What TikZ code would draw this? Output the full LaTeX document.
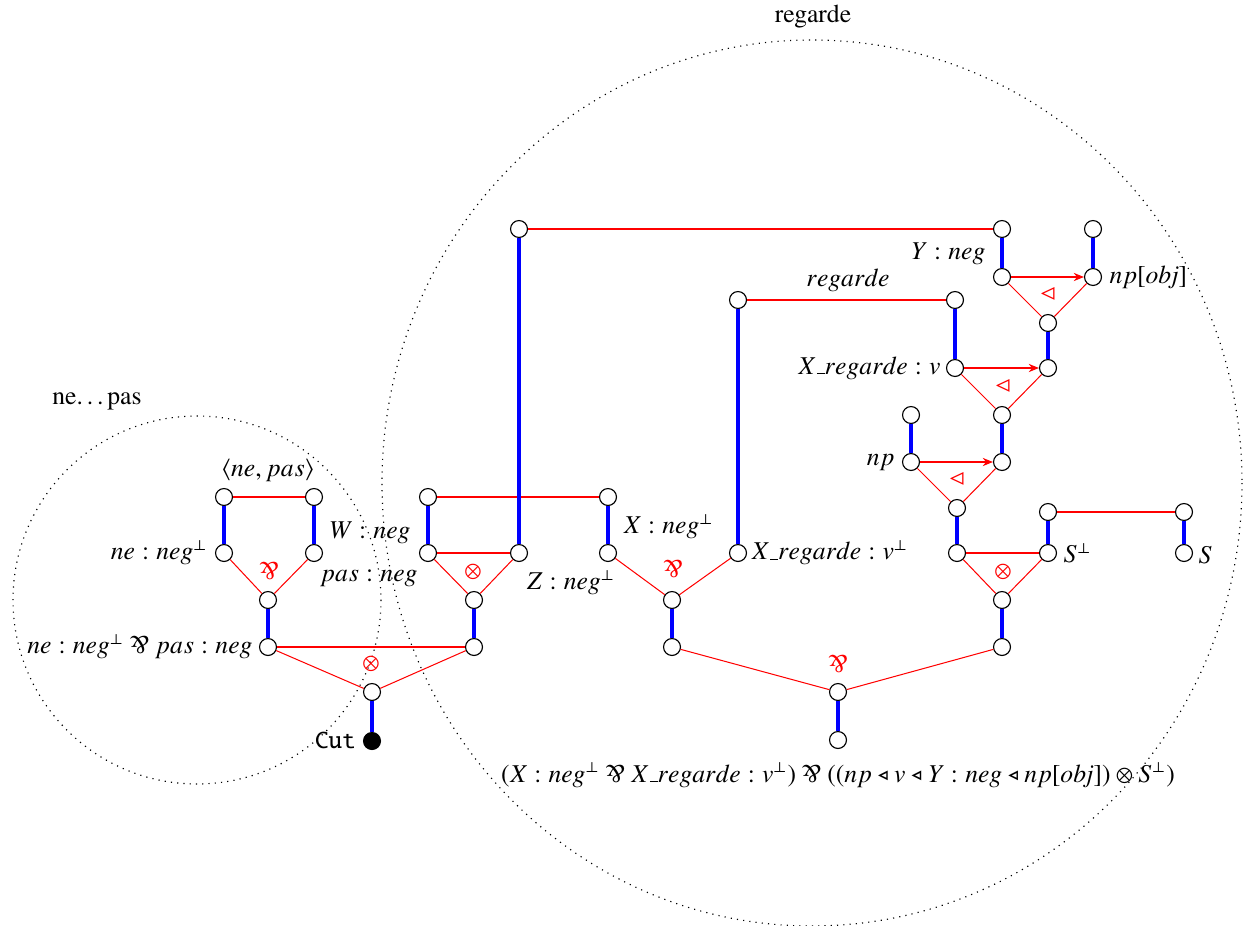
\documentclass[tikz,border=0pt]{standalone}
\usepackage[T1]{fontenc}
\usepackage{txfonts}
\usetikzlibrary{arrows.meta}
\newcommand{\lpar}{\ifdefined\invamp\invamp\else\mathbin{\rotatebox[origin=c]{180}{\&}}\fi}
\newcommand{\usc}{\mathord{\kern.06em\vbox{\hrule width.3em}}}
\newcommand{\obj}{ob\mkern-2.5mu j}
\begin{document}
\begin{tikzpicture}[x=0.39pt,y=-0.39pt,
  v/.style={circle,draw,fill=white,minimum size=6.6pt,inner sep=0pt,line width=0.45pt},
  vb/.style={v,fill=black},
  ax/.style={blue,line width=1.3pt},
  lk/.style={red,line width=0.4pt},
  ar/.style={lk,-{Stealth[length=4pt,width=3.2pt]}},
  lab/.style={inner sep=0pt},
  rlab/.style={inner sep=0pt,text=red},
  zone/.style={dotted,line width=0.45pt}]
\useasboundingbox (0,0) rectangle (1243,926);
% zones
\draw[zone] (197,600) circle [radius=184];
\draw[zone] (812,483) ellipse [x radius=430, y radius=443];
\node[lab] (zl1) at (97,401) {ne\ldots pas};
\node[lab] (zl2) at (813,17) {regarde};
% nodes
\node[v] (a1) at (224,497) {};
\node[v] (a2) at (314,497) {};
\node[v] (a3) at (224,553) {};
\node[v] (a4) at (314,553) {};
\node[v] (a5) at (268,600) {};
\node[v] (a6) at (268,647) {};
\node[v] (c) at (372,692) {};
\node[vb] (cut) at (372,741) {};
\node[v] (b1) at (428,497) {};
\node[v] (b2) at (608,497) {};
\node[v] (b3) at (428,553) {};
\node[v] (b4) at (519,553) {};
\node[v] (b5) at (474,600) {};
\node[v] (b6) at (474,647) {};
\node[v] (t1) at (519,229) {};
\node[v] (b7) at (608,553) {};
\node[v] (b8) at (672,600) {};
\node[v] (b9) at (738,553) {};
\node[v] (b10) at (672,647) {};
\node[v] (r1) at (738,300) {};
\node[v] (r2) at (955,300) {};
\node[v] (r3) at (955,368) {};
\node[v] (r4) at (1048,368) {};
\node[v] (r5) at (1002,415) {};
\node[v] (y1) at (1002,229) {};
\node[v] (y2) at (1002,277) {};
\node[v] (y3) at (1093,229) {};
\node[v] (y4) at (1093,277) {};
\node[v] (y5) at (1048,323) {};
\node[v] (n1) at (911,415) {};
\node[v] (n2) at (911,462) {};
\node[v] (n3) at (1002,462) {};
\node[v] (n4) at (957,508) {};
\node[v] (s1) at (957,553) {};
\node[v] (s2) at (1048,512) {};
\node[v] (s3) at (1048,553) {};
\node[v] (s4) at (1002,600) {};
\node[v] (s5) at (1002,647) {};
\node[v] (s6) at (1184,512) {};
\node[v] (s7) at (1184,553) {};
\node[v] (p) at (838,692) {};
\node[v] (q) at (838,740) {};
% links
\draw[lk] (a1) -- (a2);
\draw[lk] (a3) -- (a5);
\draw[lk] (a4) -- (a5);
\draw[lk] (a6) -- (b6);
\draw[lk] (a6) -- (c);
\draw[lk] (b6) -- (c);
\draw[lk] (b1) -- (b2);
\draw[lk] (b3) -- (b4);
\draw[lk] (b3) -- (b5);
\draw[lk] (b4) -- (b5);
\draw[lk] (t1) -- (y1);
\draw[lk] (b7) -- (b8);
\draw[lk] (b9) -- (b8);
\draw[lk] (r1) -- (r2);
\draw[lk] (r3) -- (r5);
\draw[lk] (r4) -- (r5);
\draw[lk] (y2) -- (y5);
\draw[lk] (y4) -- (y5);
\draw[lk] (n2) -- (n4);
\draw[lk] (n3) -- (n4);
\draw[lk] (s1) -- (s3);
\draw[lk] (s1) -- (s4);
\draw[lk] (s3) -- (s4);
\draw[lk] (s2) -- (s6);
\draw[lk] (b10) -- (p);
\draw[lk] (s5) -- (p);
\draw[ar] (r3) -- (r4);
\draw[ar] (y2) -- (y4);
\draw[ar] (n2) -- (n3);
% axioms
\draw[ax] (a1) -- (a3);
\draw[ax] (a2) -- (a4);
\draw[ax] (a5) -- (a6);
\draw[ax] (c) -- (cut);
\draw[ax] (b1) -- (b3);
\draw[ax] (b4) -- (t1);
\draw[ax] (b5) -- (b6);
\draw[ax] (b2) -- (b7);
\draw[ax] (b8) -- (b10);
\draw[ax] (b9) -- (r1);
\draw[ax] (r2) -- (r3);
\draw[ax] (y1) -- (y2);
\draw[ax] (y3) -- (y4);
\draw[ax] (y5) -- (r4);
\draw[ax] (n1) -- (n2);
\draw[ax] (r5) -- (n3);
\draw[ax] (n4) -- (s1);
\draw[ax] (s2) -- (s3);
\draw[ax] (s4) -- (s5);
\draw[ax] (s6) -- (s7);
\draw[ax] (p) -- (q);
% connective labels
\node[rlab] (k1) at (269,571) {$\lpar$};
\node[rlab] (k2) at (371,664) {$\otimes$};
\node[rlab] (k3) at (473,572) {$\otimes$};
\node[rlab] (k4) at (673,569) {$\lpar$};
\node[rlab] (k5) at (1048,294) {$\lhd$};
\node[rlab] (k6) at (1003,386) {$\lhd$};
\node[rlab] (k7) at (957,479) {$\lhd$};
\node[rlab] (k8) at (1003,572) {$\otimes$};
\node[rlab] (k9) at (838,664) {$\lpar$};
% text labels
\node[lab] (l1) at (268,470) {$\langle ne,pas\rangle$};
\node[lab,anchor=east] (l2) at (208,553) {$ne : neg^\perp$};
\node[lab,anchor=east] (l3) at (411,533) {$W : neg$};
\node[lab,anchor=east] (l4) at (418,578) {$pas : neg$};
\node[lab,anchor=east] (l5) at (253,647) {$ne : neg^\perp \lpar pas : neg$};
\node[lab,anchor=east] (l6) at (356,741) {\texttt{Cut}};
\node[lab,anchor=west] (l7) at (623,527) {$X : neg^\perp$};
\node[lab] (l8) at (571,583) {$Z : neg^\perp$};
\node[lab,anchor=west] (l9) at (751,553) {$X\usc regarde : v^\perp$};
\node[lab] (l10) at (848,280) {$regarde$};
\node[lab] (l11) at (948,254) {$Y : neg$};
\node[lab,anchor=west] (l12) at (1109,277) {$np[\obj]$};
\node[lab,anchor=east] (l13) at (941,368) {$X\usc regarde : v$};
\node[lab,anchor=east] (l14) at (895,462) {$np$};
\node[lab,anchor=west] (l15) at (1063,553) {$S^{\!\perp}$};
\node[lab,anchor=west] (l16) at (1198,555) {$S$};
\node[lab] (l17) at (838,775) {$(X : neg^\perp \lpar X\usc regarde : v^\perp) \lpar ((np \triangleleft v \triangleleft Y : neg \triangleleft np[\obj]) \otimes S^{\!\perp})$};
\end{tikzpicture}
\end{document}
